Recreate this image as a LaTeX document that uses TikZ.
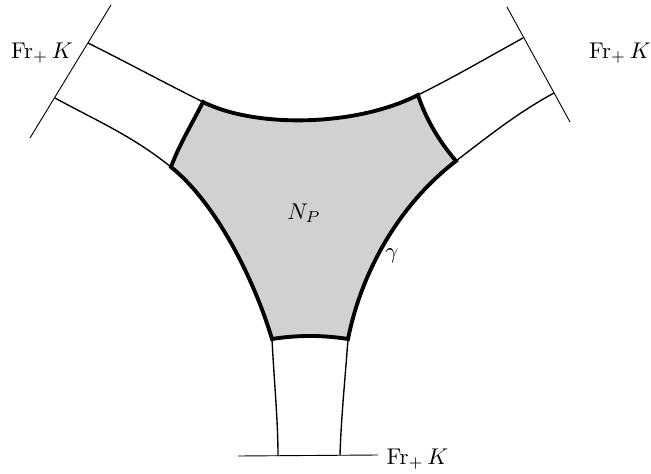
\documentclass[tikz,border=0pt]{standalone}
\usetikzlibrary{positioning}
\usepackage{amsmath,amssymb}

\begin{document}
\begin{tikzpicture}[x=0.44pt,y=-0.44pt,semithick,
    frontier/.style={thin},
    collar/.style={line width=1.7pt},
    core/.style={fill=black!18}]
  \useasboundingbox (0,0) rectangle (651,474);
  % frontier segments
  \coordinate (lf1) at (30,138);  \coordinate (lf2) at (111,5);
  \coordinate (rf1) at (507,7);   \coordinate (rf2) at (570,122);
  \coordinate (bf1) at (238,456); \coordinate (bf2) at (378,455);
  % ends of the strips
  \coordinate (a1) at (88,43);   \coordinate (a2) at (55,98);
  \coordinate (r1) at (523,38);  \coordinate (r2) at (554,93);
  \coordinate (b1) at (278,456); \coordinate (b2) at (340,455);
  % corners of N_P
  \coordinate (g1) at (203,102); \coordinate (g2) at (418,95);
  \coordinate (g3) at (456,161); \coordinate (g4) at (348,339);
  \coordinate (g5) at (272,339); \coordinate (g6) at (171,167);

  \path[core] (g1) .. controls (255,128) and (355,127) .. (g2)
    .. controls (425,117) and (438,140) .. (g3)
    .. controls (401,203) and (362,269) .. (g4)
    .. controls (323,335) and (297,335) .. (g5)
    .. controls (254,279) and (216,203) .. (g6)
    .. controls (179,145) and (193,122) .. (g1) -- cycle;

  \draw[frontier] (lf1) -- (lf2);
  \draw[frontier] (rf1) -- (rf2);
  \draw[frontier] (bf1) -- (bf2);

  \draw (a1) .. controls (128,63) and (163,82) .. (g1);
  \draw (a2) .. controls (95,120) and (131,135) .. (g6);
  \draw (g2) .. controls (458,75) and (483,60) .. (r1);
  \draw (g3) .. controls (491,134) and (519,112) .. (r2);
  \draw (g5) .. controls (274,380) and (278,420) .. (b1);
  \draw (g4) .. controls (345,380) and (341,420) .. (b2);

  \draw[collar] (g1) .. controls (255,128) and (355,127) .. (g2)
    .. controls (425,117) and (438,140) .. (g3)
    .. controls (401,203) and (362,269) .. (g4)
    .. controls (323,335) and (297,335) .. (g5)
    .. controls (254,279) and (216,203) .. (g6)
    .. controls (179,145) and (193,122) .. (g1) -- cycle;

  \node (frl) at (42,53) {$\operatorname{Fr}_+ K$};
  \node (frr) at (620,53) {$\operatorname{Fr}_+ K$};
  \node[anchor=west,inner sep=0pt] (frb) at (386,459) {$\operatorname{Fr}_+ K$};
  \node (np) at (304,213) {$N_P$};
  \node (gam) at (392,256) {$\gamma$};
\end{tikzpicture}
\end{document}
